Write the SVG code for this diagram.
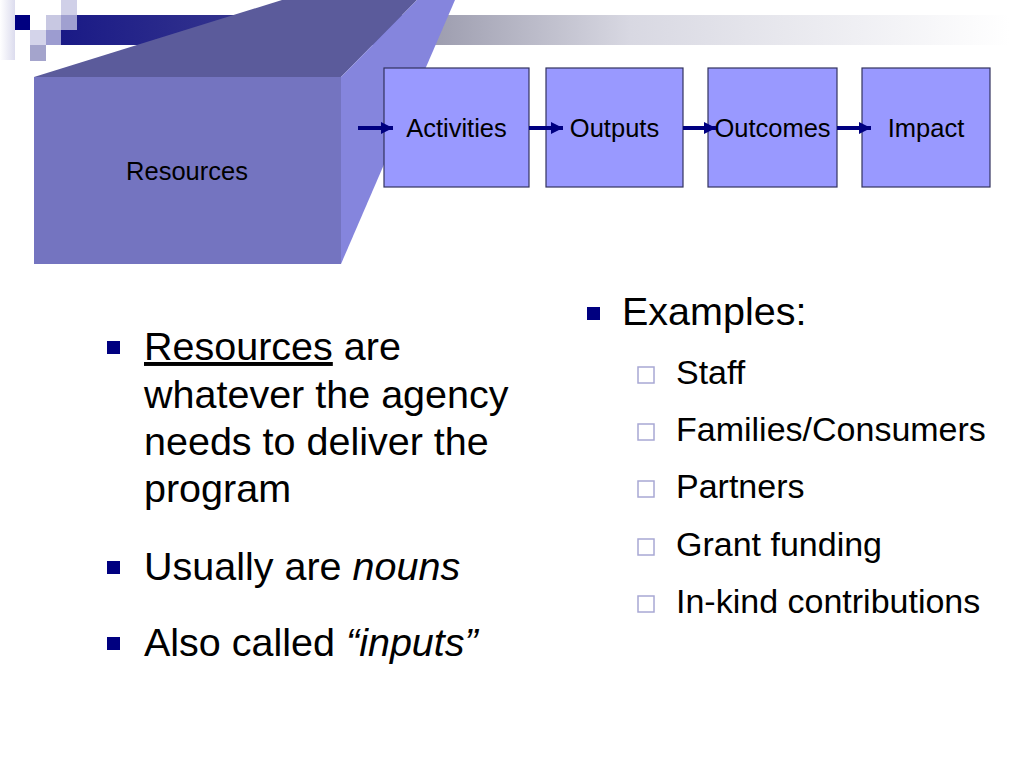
<svg xmlns="http://www.w3.org/2000/svg" width="1024" height="768" viewBox="0 0 1024 768">
<defs>
<linearGradient id="bar" gradientUnits="userSpaceOnUse" x1="61" y1="0" x2="1010" y2="0">
<stop offset="0" stop-color="#1a1a86"/>
<stop offset="0.19" stop-color="#34348e"/>
<stop offset="0.385" stop-color="#5a5a98"/>
<stop offset="0.39" stop-color="#9c9cae"/>
<stop offset="0.6" stop-color="#d8d8e2"/>
<stop offset="1" stop-color="#ffffff"/>
</linearGradient>
<linearGradient id="edge" x1="1" y1="0" x2="0" y2="0">
<stop offset="0" stop-color="#dcdcee"/>
<stop offset="1" stop-color="#ffffff"/>
</linearGradient>
<marker id="ah" viewBox="0 0 12 12" refX="12" refY="6" markerWidth="12" markerHeight="12" markerUnits="userSpaceOnUse" orient="auto">
<path d="M0,0 L12,6 L0,12 Z" fill="#000080"/>
</marker>
</defs>
<style>
.box{fill:#9999ff;stroke:#33335e;stroke-width:1.2}
.lbl{font-family:"Liberation Sans",Arial,sans-serif;font-size:25.5px;fill:#000;text-anchor:middle}
.conn{stroke:#000080;stroke-width:3.8;fill:none;marker-end:url(#ah)}
.big{font-family:"Liberation Sans",Arial,sans-serif;font-size:39.5px;fill:#000}
.sub{font-family:"Liberation Sans",Arial,sans-serif;font-size:34px;fill:#000}
.b1{fill:#000080}
.b2{fill:none;stroke:#a8a8d4;stroke-width:1.5}
</style>
<rect width="1024" height="768" fill="#ffffff"/>
<g id="header">
<rect x="0" y="0" width="15" height="60" fill="url(#edge)"/>
<rect x="61" y="15" width="963" height="30" fill="url(#bar)"/>
<rect x="15" y="15" width="15" height="15" fill="#000080"/>
<rect x="46" y="15" width="15" height="15" fill="#c8c8e2"/>
<rect x="61" y="15" width="16" height="15" fill="#a0a0d0"/>
<rect x="61" y="0" width="16" height="15" fill="#d0d0e8"/>
<rect x="30" y="30" width="16" height="15" fill="#d4d4ea"/>
<rect x="46" y="30" width="15" height="15" fill="#9c9cd0"/>
<rect x="30" y="45" width="16" height="16" fill="#a4a4cc"/>
</g>
<g id="resources">
<polygon points="34,77 282,0 417,0 341,77" fill="#5b5b9b"/>
<polygon points="341,77 417,0 455,0 341,264" fill="#8585dd"/>
<rect x="34" y="77" width="307" height="187" fill="#7474c0"/>
<text class="lbl" x="187" y="180">Resources</text>
</g>
<g id="activities">
<rect class="box" x="384" y="68" width="145" height="119"/>
<text class="lbl" x="456.5" y="137">Activities</text>
</g>
<g id="outputs">
<rect class="box" x="546" y="68" width="137" height="119"/>
<text class="lbl" x="614.5" y="137">Outputs</text>
</g>
<g id="outcomes">
<rect class="box" x="708" y="68" width="129" height="119"/>
<text class="lbl" x="772.5" y="137">Outcomes</text>
</g>
<g id="impact">
<rect class="box" x="862" y="68" width="128" height="119"/>
<text class="lbl" x="926" y="137">Impact</text>
</g>
<g id="connectors">
<line class="conn" x1="358" y1="128" x2="393" y2="128"/>
<line class="conn" x1="529" y1="128" x2="563" y2="128"/>
<line class="conn" x1="683" y1="128" x2="716" y2="128"/>
<line class="conn" x1="837" y1="128" x2="871" y2="128"/>
</g>
<g id="left-bullets">
<rect class="b1" x="107" y="341" width="13" height="13"/>
<text class="big" x="144" y="360"><tspan text-decoration="underline">Resources</tspan> are</text>
<text class="big" x="144" y="408">whatever the agency</text>
<text class="big" x="144" y="455">needs to deliver the</text>
<text class="big" x="144" y="502">program</text>
<rect class="b1" x="107" y="561" width="13" height="13"/>
<text class="big" x="144" y="580">Usually are <tspan font-style="italic">nouns</tspan></text>
<rect class="b1" x="107" y="637" width="13" height="13"/>
<text class="big" x="144" y="656">Also called <tspan font-style="italic">“inputs”</tspan></text>
</g>
<g id="right-bullets">
<rect class="b1" x="587" y="307" width="13" height="13"/>
<text class="big" x="622" y="325">Examples:</text>
<rect class="b2" x="638" y="367" width="16" height="16"/>
<text class="sub" x="676" y="384">Staff</text>
<rect class="b2" x="638" y="424" width="16" height="16"/>
<text class="sub" x="676" y="441">Families/Consumers</text>
<rect class="b2" x="638" y="481" width="16" height="16"/>
<text class="sub" x="676" y="498">Partners</text>
<rect class="b2" x="638" y="539" width="16" height="16"/>
<text class="sub" x="676" y="556">Grant funding</text>
<rect class="b2" x="638" y="596" width="16" height="16"/>
<text class="sub" x="676" y="613">In-kind contributions</text>
</g>
</svg>
